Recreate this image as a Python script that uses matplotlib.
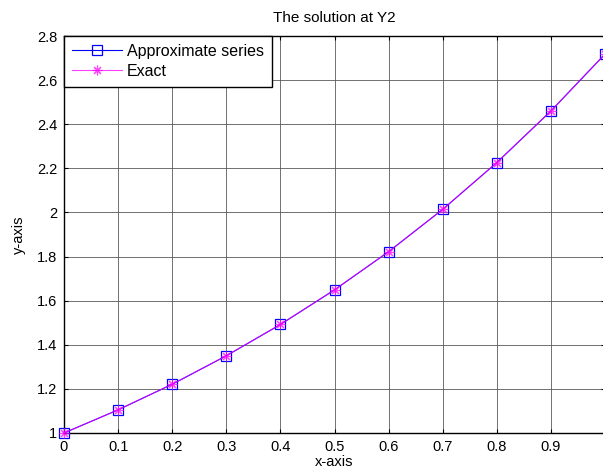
import matplotlib
matplotlib.use("Agg")
import matplotlib.pyplot as plt

x = [0.0, 0.1, 0.2, 0.3, 0.4, 0.5, 0.6, 0.7, 0.8, 0.9, 1.0]
approx = [1.0, 1.105, 1.221, 1.350, 1.492, 1.649, 1.822, 2.014, 2.226, 2.460, 2.718]
exact = [1.0, 1.105, 1.221, 1.350, 1.492, 1.649, 1.822, 2.014, 2.226, 2.460, 2.718]
xticks = [0, 0.1, 0.2, 0.3, 0.4, 0.5, 0.6, 0.7, 0.8, 0.9]
xticklabels = ["0", "0.1", "0.2", "0.3", "0.4", "0.5", "0.6", "0.7", "0.8", "0.9"]
yticks = [1, 1.2, 1.4, 1.6, 1.8, 2, 2.2, 2.4, 2.6, 2.8]
yticklabels = ["1", "1.2", "1.4", "1.6", "1.8", "2", "2.2", "2.4", "2.6", "2.8"]

plt.rcParams['font.family'] = ['Liberation Sans', 'DejaVu Sans']
plt.rcParams['font.size'] = 10.5

fig = plt.figure(figsize=(6.03, 4.75), dpi=100)
ax = fig.add_axes([64/603, 42/475, 541/603, 397/475])

ax.plot(x, approx, color='#0000ff', lw=0.8, marker='s', ms=7, mfc='none', mec='#0000ff', mew=0.9,
        label='Approximate series', clip_on=False, zorder=3)
ax.plot(x, exact, color='#ff00ff', lw=0.8, marker=(8, 2, 0), ms=7, mfc='none', mec='#ff00ff', mew=0.8,
        label='Exact', alpha=0.75, clip_on=False, zorder=4)

ax.set_xlim(0, 1)
ax.set_ylim(1, 2.8)
ax.set_xticks(xticks)
ax.set_xticklabels(xticklabels)
ax.set_yticks(yticks)
ax.set_yticklabels(yticklabels)
ax.grid(True, color='#5a5a5a', lw=0.6)
ax.tick_params(direction='in', length=3, width=0.8, colors='black', labelsize=10.5,
               top=True, right=True, pad=5)
for s in ax.spines.values():
    s.set_linewidth(1.0)
ax.set_title('The solution at Y2', fontsize=11, pad=10)
ax.set_xlabel('x-axis', fontsize=10.5, labelpad=1)
ax.set_ylabel('y-axis', fontsize=10.5, labelpad=8)

leg = ax.legend(loc='upper left', borderaxespad=0, fancybox=False, framealpha=1,
                edgecolor='black', fontsize=11.5, handlelength=3.1, handletextpad=0.35,
                borderpad=0.5, labelspacing=0.3)
leg.get_frame().set_linewidth(1.0)

fig.savefig('out.png', dpi=100)
